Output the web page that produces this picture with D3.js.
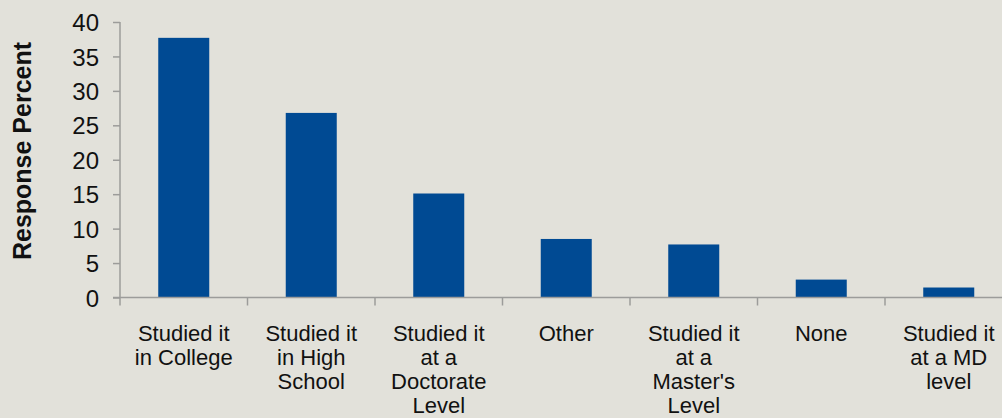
<html>
<script src="https://d3js.org/d3.v7.min.js"></script>
<style>
    body { margin: 0; background: #e2e1da; }
    svg { display: block; font-family: "Liberation Sans", Arial, sans-serif; }
    .bar { fill: #004a93; }
    .axis path, .axis line { stroke: #9c9c9a; stroke-width: 1.5px; fill: none; }
    .axis text { font-size: 24px; fill: #111; }
    .xlabel { font-size: 22px; fill: #111; text-anchor: middle; }
    .ytitle { font-size: 25px; font-weight: bold; fill: #111; text-anchor: middle; }
</style>
<body>
<svg width=1002 height=418></svg>
<script>
    // survey answers, percent of respondents
    let categories = ['Studied it in College', 'Studied it in High School', 'Studied it at a Doctorate Level',
        'Other', "Studied it at a Master's Level", 'None', 'Studied it at a MD level'];
    let labelLines = [
        ['Studied it', 'in College'],
        ['Studied it', 'in High', 'School'],
        ['Studied it', 'at a', 'Doctorate', 'Level'],
        ['Other'],
        ['Studied it', 'at a', "Master's", 'Level'],
        ['None'],
        ['Studied it', 'at a MD', 'level']
    ];
    let percent = [37.7, 26.8, 15.1, 8.5, 7.7, 2.6, 1.45];
    let yTicks = [0, 5, 10, 15, 20, 25, 30, 35, 40];

    let svg = d3.select('svg');
    svg.append('rect').attr('width', 1002).attr('height', 418).attr('fill', '#e2e1da');

    let left = 120, step = 127.5, baseY = 297.5;

    let x = d3.scaleBand()
        .domain(categories)
        .range([left, left + categories.length * step])
        .paddingInner(0.6)
        .paddingOuter(0.3);

    let y = d3.scaleLinear()
        .domain([0, 40])
        .range([baseY, 22]);

    // bars
    svg.selectAll('.bar')
        .data(percent)
        .enter().append('rect')
        .attr('class', 'bar')
        .attr('x', (d, i) => x(categories[i]))
        .attr('y', d => y(d))
        .attr('width', x.bandwidth())
        .attr('height', d => y(0) - y(d));

    // y axis
    let yAxis = svg.append('g')
        .attr('class', 'axis')
        .attr('transform', 'translate(' + left + ',0)')
        .call(d3.axisLeft(y).tickValues(yTicks).tickSize(7).tickPadding(14).tickSizeOuter(0));
    yAxis.select('.domain').attr('d', 'M0,' + y(40) + 'V' + baseY);
    yAxis.selectAll('text').attr('dy', '0.36em');

    // x axis: line with ticks on band boundaries
    let bounds = d3.range(categories.length + 1).map(i => x.range()[0] + i * x.step());
    let xAxis = svg.append('g').attr('class', 'axis');
    xAxis.append('path').attr('d', 'M' + (left - 7) + ',' + baseY + 'H1002');
    xAxis.selectAll('line')
        .data(bounds)
        .enter().append('line')
        .attr('x1', d => d).attr('x2', d => d)
        .attr('y1', baseY).attr('y2', baseY + 8);

    // category labels
    svg.selectAll('.xlabel')
        .data(labelLines)
        .enter().append('text')
        .attr('class', 'xlabel')
        .attr('transform', (d, i) => 'translate(' + (x(categories[i]) + x.bandwidth() / 2) + ',341)')
        .selectAll('tspan')
        .data(d => d)
        .enter().append('tspan')
        .attr('x', 0)
        .attr('y', (d, j) => j * 24)
        .text(d => d);

    svg.append('text')
        .attr('class', 'ytitle')
        .attr('transform', 'translate(31,151) rotate(-90)')
        .text('Response Percent');
</script>
</body>
</html>
